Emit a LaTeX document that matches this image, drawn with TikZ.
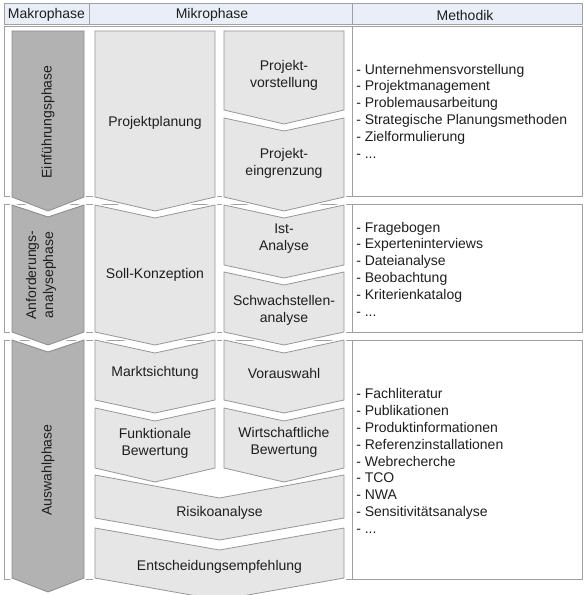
\documentclass[tikz,border=0pt]{standalone}
\usepackage{fontspec}
\setmainfont{Liberation Sans}
\definecolor{headerfill}{RGB}{233,238,248}
\definecolor{gridline}{RGB}{160,160,160}
\definecolor{chevfill}{RGB}{230,230,230}
\definecolor{chevline}{RGB}{150,150,150}
\definecolor{makrofill}{RGB}{178,178,178}
\definecolor{makroline}{RGB}{140,140,140}
\definecolor{txt}{RGB}{30,30,30}
% chevron: style, x left, x right, y top, y bottom (sides), notch depth, tip depth
\newcommand{\chev}[7]{%
  \path[#1] (#2,#4) -- ({(#2+#3)/2},{#4+#6}) -- (#3,#4) -- (#3,#5)
    -- ({(#2+#3)/2},{#5+#7}) -- (#2,#5) -- cycle;}
\begin{document}
\begin{tikzpicture}[x=0.75pt,y=-0.75pt,
  font=\fontsize{10.5}{12.6}\selectfont,
  grid/.style={draw=gridline, line width=0.75pt},
  chevbox/.style={fill=chevfill, draw=chevline, line width=0.6pt,
    preaction={draw=white, line width=3pt}},
  makrobox/.style={fill=makrofill, draw=makroline, line width=0.6pt,
    preaction={draw=white, line width=3pt}},
  lbl/.style={text=txt, align=center, inner sep=0pt},
  list/.style={text=txt, align=left, anchor=west, inner sep=0pt}]
\useasboundingbox (0,0) rectangle (586,595);

% header row
\draw[grid, fill=headerfill] (4,4) rectangle (582,25);
\draw[grid] (89,4) -- (89,25) (352,4) -- (352,25);
\node[lbl] (hmakro) at (46.5,15) {Makrophase};
\node[lbl] (hmikro) at (212,15) {Mikrophase};
\node[lbl] (hmeth) at (465,15) {Methodik};

% phase rows with their method column
\draw[grid] (4,27) rectangle (582,197) (352,27) -- (352,197);
\draw[grid] (4,205) rectangle (582,332) (352,205) -- (352,332);
\draw[grid] (4,340) rectangle (582,579) (352,340) -- (352,579);

% Einfuehrungsphase
\chev{makrobox}{12}{84}{31}{197}{0}{14}
\chev{chevbox}{95}{215}{31}{197}{0}{14}
\chev{chevbox}{224}{344}{31}{110}{0}{14}
\chev{chevbox}{224}{344}{118}{197}{13}{14}

% Anforderungsanalysephase
\chev{makrobox}{12}{84}{205}{332}{12}{13}
\chev{chevbox}{95}{215}{205}{332}{13}{13}
\chev{chevbox}{224}{344}{205}{265}{13}{13}
\chev{chevbox}{224}{344}{272}{332}{13}{13}

% Auswahlphase
\chev{makrobox}{12}{84}{340}{578}{12}{14}
\chev{chevbox}{95}{215}{340}{400}{13}{13}
\chev{chevbox}{224}{344}{340}{400}{13}{13}
\chev{chevbox}{95}{215}{408}{468}{13}{14}
\chev{chevbox}{224}{344}{408}{468}{13}{14}
\chev{chevbox}{95}{344}{475}{518}{23}{22}
\chev{chevbox}{95}{344}{528}{578}{22}{22}

% macro phase labels
\node[lbl, rotate=90] (mk1) at (48,122) {Einführungsphase};
\node[lbl, rotate=90] (mk2) at (41,275) {Anforderungs-\\analysephase};
\node[lbl, rotate=90] (mk3) at (48,470) {Auswahlphase};

% micro phase labels
\node[lbl] (tplanung) at (155,123) {Projektplanung};
\node[lbl] (tvorst) at (284,75) {Projekt-\\vorstellung};
\node[lbl] (teingr) at (284,163) {Projekt-\\eingrenzung};
\node[lbl] (tsoll) at (155,275) {Soll-Konzeption};
\node[lbl] (tist) at (284,239) {Ist-\\Analyse};
\node[lbl] (tschw) at (284,310) {Schwachstellen-\\analyse};
\node[lbl] (tmarkt) at (155,373) {Marktsichtung};
\node[lbl] (tvoraus) at (284,373) {Vorauswahl};
\node[lbl] (tfunk) at (155,443) {Funktionale\\Bewertung};
\node[lbl] (twirt) at (284,442) {Wirtschaftliche\\Bewertung};
\node[lbl] (trisiko) at (219.5,513) {Risikoanalyse};
\node[lbl] (tentsch) at (219.5,567) {Entscheidungsempfehlung};

% method lists
\node[list] (m1) at (356,111) {- Unternehmensvorstellung\\- Projektmanagement\\- Problemausarbeitung\\- Strategische Planungsmethoden\\- Zielformulierung\\- ...};
\node[list] (m2) at (356,269) {- Fragebogen\\- Experteninterviews\\- Dateianalyse\\- Beobachtung\\- Kriterienkatalog\\- ...};
\node[list] (m3) at (356,461) {- Fachliteratur\\- Publikationen\\- Produktinformationen\\- Referenzinstallationen\\- Webrecherche\\- TCO\\- NWA\\- Sensitivitätsanalyse\\- ...};
\end{tikzpicture}
\end{document}
